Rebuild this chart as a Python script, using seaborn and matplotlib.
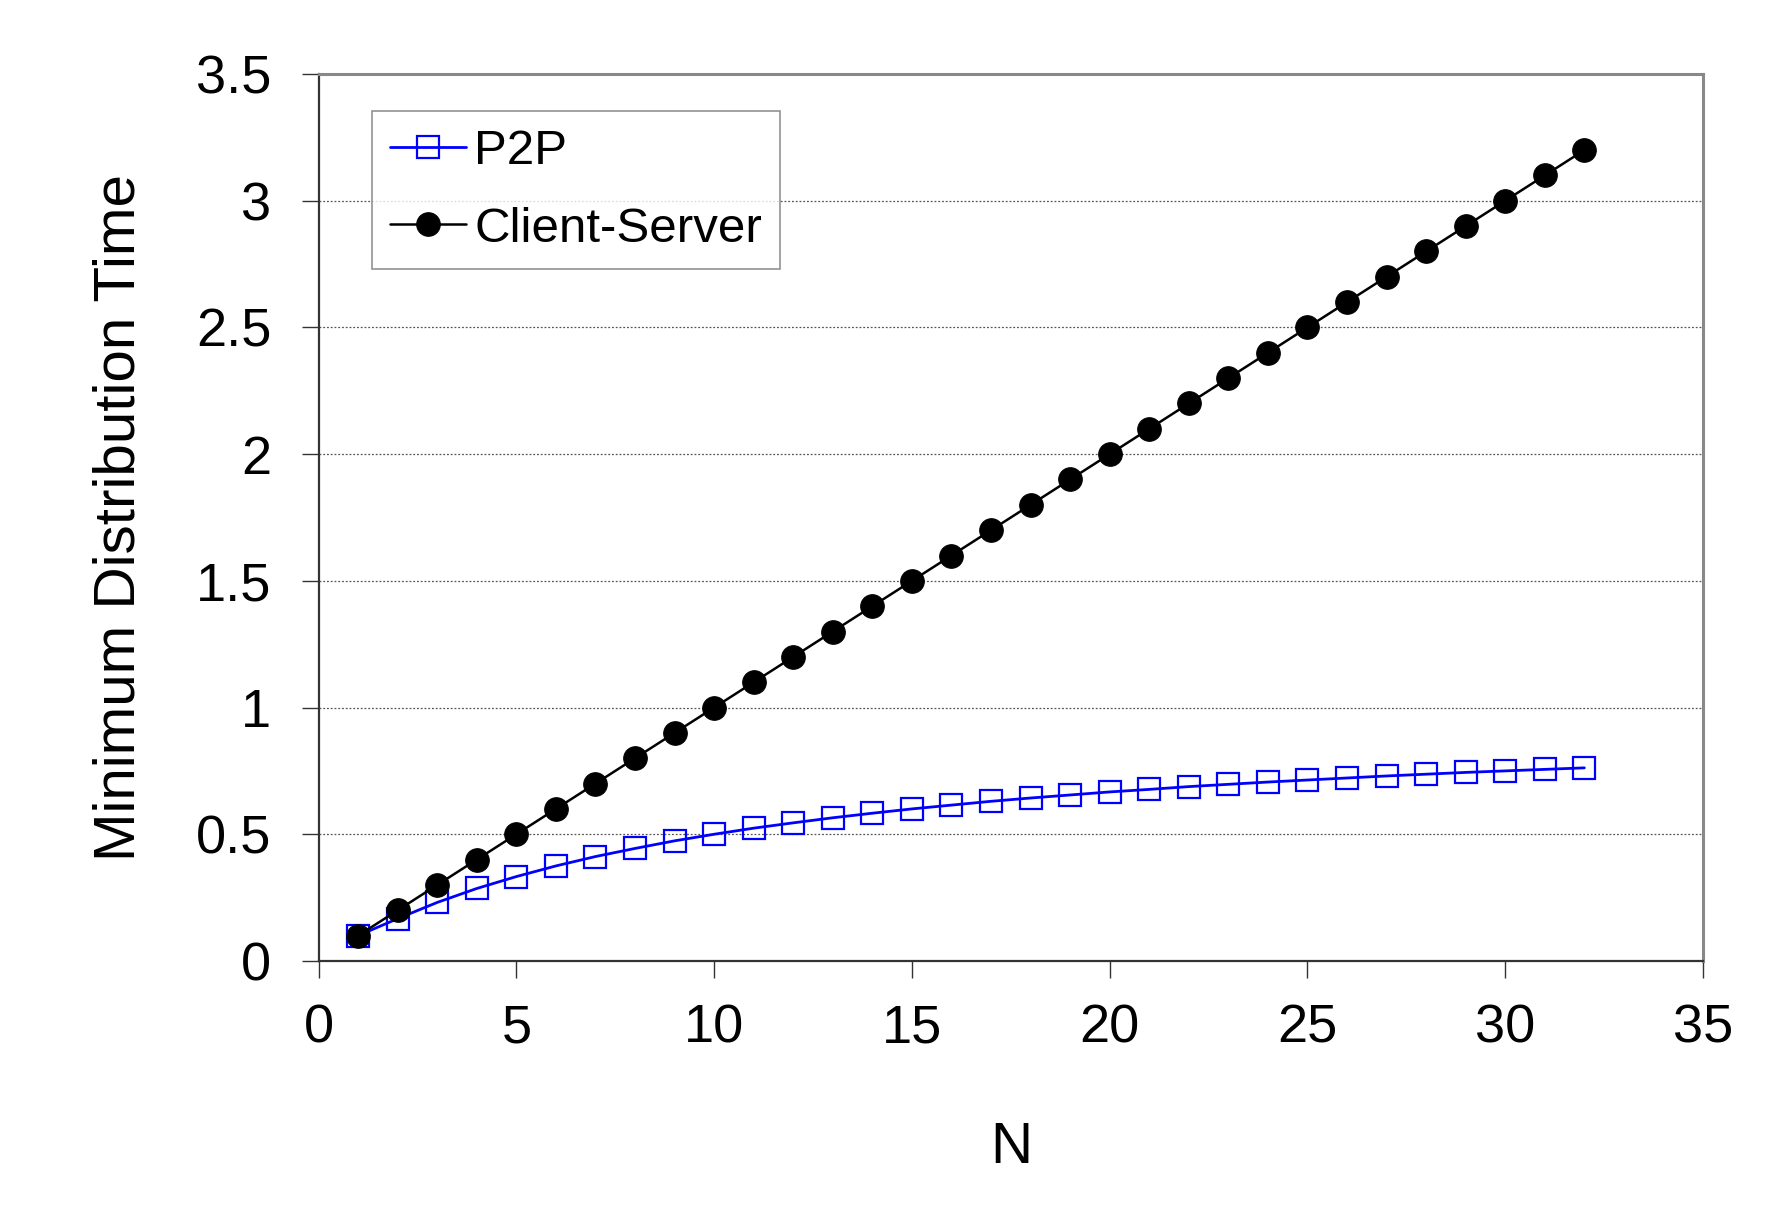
import matplotlib
matplotlib.use("Agg")
import matplotlib.pyplot as plt
import seaborn as sns
import pandas as pd

# values
n_values = list(range(1, 33))
p2p_time = [0.100, 0.167, 0.231, 0.286, 0.333, 0.375, 0.412, 0.444, 0.474, 0.500,
            0.524, 0.545, 0.565, 0.583, 0.600, 0.615, 0.630, 0.643, 0.655, 0.667,
            0.677, 0.688, 0.697, 0.706, 0.714, 0.722, 0.730, 0.737, 0.744, 0.750,
            0.756, 0.762]
cs_time = [0.1, 0.2, 0.3, 0.4, 0.5, 0.6, 0.7, 0.8, 0.9, 1.0,
           1.1, 1.2, 1.3, 1.4, 1.5, 1.6, 1.7, 1.8, 1.9, 2.0,
           2.1, 2.2, 2.3, 2.4, 2.5, 2.6, 2.7, 2.8, 2.9, 3.0,
           3.1, 3.2]
x_ticks = [0, 5, 10, 15, 20, 25, 30, 35]
y_ticks = [0, 0.5, 1, 1.5, 2, 2.5, 3, 3.5]
y_tick_labels = ["0", "0.5", "1", "1.5", "2", "2.5", "3", "3.5"]


def main():
    sns.set_style("ticks")
    plt.rcParams['font.family'] = ['Liberation Sans', 'DejaVu Sans']
    plt.rcParams['text.color'] = 'black'
    plt.rcParams['axes.labelcolor'] = 'black'
    plt.rcParams['xtick.labelcolor'] = 'black'
    plt.rcParams['ytick.labelcolor'] = 'black'

    df = pd.DataFrame({"N": n_values, "P2P": p2p_time, "Client-Server": cs_time})

    fig = plt.figure(figsize=(17.84, 12.06), dpi=100)
    ax = fig.add_axes([0.1786, 0.2032, 0.776, 0.7354])

    sns.lineplot(data=df, x="N", y="P2P", ax=ax, color="#0000ff", lw=2,
                 marker="s", markersize=15.5, markerfacecolor="none",
                 markeredgecolor="#0000ff", markeredgewidth=1.6, label="P2P")
    sns.lineplot(data=df, x="N", y="Client-Server", ax=ax, color="black", lw=1.8,
                 marker="o", markersize=17, markerfacecolor="black",
                 markeredgecolor="black", label="Client-Server")

    ax.set_xlim(0, 35)
    ax.set_ylim(0, 3.5)
    ax.set_xticks(x_ticks)
    ax.set_yticks(y_ticks)
    ax.set_yticklabels(y_tick_labels)
    ax.tick_params(axis="both", labelsize=39, length=12, width=1, direction="out",
                   color="#333333")
    ax.tick_params(axis="x", pad=19)
    ax.tick_params(axis="y", pad=22)

    ax.yaxis.grid(True, linestyle=(0, (1.5, 1.5)), color="#555555", lw=0.9)
    ax.set_axisbelow(True)

    for side in ["top", "right"]:
        ax.spines[side].set_visible(True)
        ax.spines[side].set_color("#888888")
        ax.spines[side].set_linewidth(2.2)
    for side in ["left", "bottom"]:
        ax.spines[side].set_color("#333333")
        ax.spines[side].set_linewidth(1.6)

    ax.set_xlabel("N", fontsize=42, labelpad=48)
    ax.set_ylabel("Minimum Distribution Time", fontsize=42, labelpad=36)

    leg = ax.legend(loc="upper left", bbox_to_anchor=(0.0386, 0.958), fontsize=35.5,
                    frameon=True, fancybox=False, edgecolor="#777777",
                    borderaxespad=0, handlelength=1.55, handletextpad=0.16,
                    borderpad=0.36, labelspacing=0.66)
    leg.get_frame().set_linewidth(1.2)

    fig.savefig("out.png", dpi=100)


if __name__ == '__main__':
    main()
